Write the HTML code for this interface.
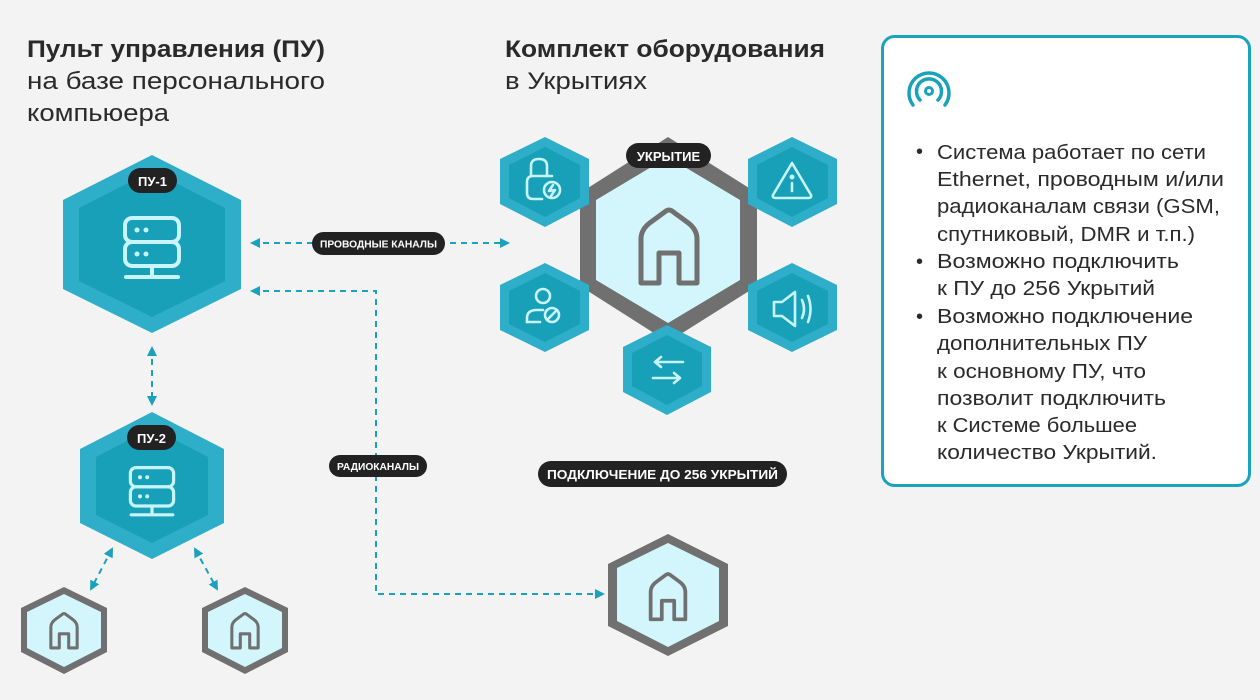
<!DOCTYPE html>
<html><head><meta charset="utf-8"><style>
html,body{margin:0;padding:0;background:#f3f3f3;}
svg{display:block;}
text{font-family:"Liberation Sans","DejaVu Sans",sans-serif;}
</style></head><body>
<svg width="1260" height="700" viewBox="0 0 1260 700" xmlns="http://www.w3.org/2000/svg">
<defs>
<marker id="ar" viewBox="0 0 10 10" refX="8" refY="5" markerWidth="5" markerHeight="5" orient="auto-start-reverse"><path d="M0,0 L10,5 L0,10 Z" fill="#1aa1bb"/></marker>
<path id="house" d="M -28,36 L -28,-8 Q -28,-18 -18,-25 L -3,-36 Q 0,-38 3,-36 L 18,-25 Q 28,-18 28,-8 L 28,36 L 10,36 L 10,6 L -10,6 L -10,36 Z" fill="none" stroke-linejoin="round"/>
<g id="server" fill="none" stroke="#c8f4fb" stroke-width="4" stroke-linecap="round">
<rect x="-27" y="-28" width="54" height="24" rx="7"/>
<rect x="-27" y="-4" width="54" height="24" rx="7"/>
<line x1="0" y1="20" x2="0" y2="30"/>
<line x1="-26" y1="31" x2="26" y2="31"/>
<circle cx="-15" cy="-16" r="2.5" fill="#c8f4fb" stroke="none"/><circle cx="-6" cy="-16" r="2.5" fill="#c8f4fb" stroke="none"/>
<circle cx="-15" cy="8" r="2.5" fill="#c8f4fb" stroke="none"/><circle cx="-6" cy="8" r="2.5" fill="#c8f4fb" stroke="none"/>
</g>
</defs>

<!-- headings -->
<g font-size="24" fill="#2a2a2a">
<text x="27" y="57" font-weight="bold" textLength="298" lengthAdjust="spacingAndGlyphs">Пульт управления (ПУ)</text>
<text x="27" y="89" textLength="298" lengthAdjust="spacingAndGlyphs">на базе персонального</text>
<text x="27" y="121" textLength="142" lengthAdjust="spacingAndGlyphs">компьюера</text>
<text x="505" y="57" font-weight="bold" textLength="320" lengthAdjust="spacingAndGlyphs">Комплект оборудования</text>
<text x="505" y="89" textLength="142" lengthAdjust="spacingAndGlyphs">в Укрытиях</text>
</g>

<!-- connectors -->
<g stroke="#1aa1bb" stroke-width="2" stroke-dasharray="6,5" fill="none">
<line x1="252" y1="243" x2="508" y2="243" marker-start="url(#ar)" marker-end="url(#ar)"/>
<polyline points="252,291 376,291 376,594 603,594" marker-start="url(#ar)" marker-end="url(#ar)"/>
<line x1="152" y1="348" x2="152" y2="404" marker-start="url(#ar)" marker-end="url(#ar)"/>
<line x1="112" y1="549" x2="91" y2="589" marker-start="url(#ar)" marker-end="url(#ar)"/>
<line x1="195" y1="549" x2="217" y2="589" marker-start="url(#ar)" marker-end="url(#ar)"/>
</g>

<!-- PU-1 -->
<polygon points="152,155 241,200 241,289 152,333 63,289 63,200" fill="#2eaec8"/>
<polygon points="152,171 225,208 225,281 152,317 79,281 79,208" fill="#18a0b8"/>
<use href="#server" x="152" y="246"/>
<rect x="128" y="168" width="49" height="25" rx="12.5" fill="#222"/>
<text x="152.5" y="186" font-size="13" font-weight="bold" fill="#fff" text-anchor="middle">ПУ-1</text>

<!-- PU-2 -->
<polygon points="152,412 224,449 224,523 152,559 80,523 80,449" fill="#2eaec8"/>
<polygon points="152,428 208,457 208,515 152,543 96,515 96,457" fill="#18a0b8"/>
<use href="#server" x="152" y="490" transform="translate(152 490) scale(0.8) translate(-152 -490)"/>
<rect x="127" y="425" width="49" height="25" rx="12.5" fill="#222"/>
<text x="151.5" y="443" font-size="13" font-weight="bold" fill="#fff" text-anchor="middle">ПУ-2</text>

<!-- small houses bottom left -->
<g>
<polygon points="64,587 107,608 107,652 64,674 21,652 21,608" fill="#707070"/>
<polygon points="64,594 101,612 101,648 64,667 27,648 27,612" fill="#d2f6fc"/>
<use href="#house" transform="translate(64 631) scale(0.47)" stroke="#707070" stroke-width="6.5"/>
<polygon points="245,587 288,608 288,652 245,674 202,652 202,608" fill="#707070"/>
<polygon points="245,594 282,612 282,648 245,667 208,648 208,612" fill="#d2f6fc"/>
<use href="#house" transform="translate(245 631) scale(0.47)" stroke="#707070" stroke-width="6.5"/>
</g>

<!-- bottom right house -->
<polygon points="668,534 728,564 728,626 668,656 608,626 608,564" fill="#707070"/>
<polygon points="668,543 719,568 719,621 668,647 617,621 617,568" fill="#d2f6fc"/>
<use href="#house" transform="translate(668 597) scale(0.62)" stroke="#707070" stroke-width="6"/>

<!-- central -->
<polygon points="668,137 757,193 757,286 668,342 580,286 580,193" fill="#707070"/>
<polygon points="668,157 740,200 740,280 668,323 596,280 596,200" fill="#d2f6fc"/>
<use href="#house" transform="translate(669 247)" stroke="#707070" stroke-width="5"/>
<rect x="626" y="143" width="85" height="25" rx="12.5" fill="#222"/>
<text x="668.5" y="161" font-size="13" font-weight="bold" fill="#fff" text-anchor="middle">УКРЫТИЕ</text>

<!-- satellite hexes -->
<g>
<polygon points="545,137 589,159 589,204 545,227 500,204 500,159" fill="#2eaec8"/>
<polygon points="545,147 580,165 580,198 545,217 509,198 509,165" fill="#18a0b8"/>
<polygon points="792,137 837,159 837,204 792,227 748,204 748,159" fill="#2eaec8"/>
<polygon points="792,147 828,165 828,198 792,217 757,198 757,165" fill="#18a0b8"/>
<polygon points="545,263 589,285 589,330 545,352 500,330 500,285" fill="#2eaec8"/>
<polygon points="545,273 580,291 580,324 545,342 509,324 509,291" fill="#18a0b8"/>
<polygon points="792,263 837,285 837,330 792,352 748,330 748,285" fill="#2eaec8"/>
<polygon points="792,273 828,291 828,324 792,342 757,324 757,291" fill="#18a0b8"/>
<polygon points="667,325 711,347 711,392 667,415 623,392 623,347" fill="#2eaec8"/>
<polygon points="667,335 702,353 702,386 667,405 632,386 632,353" fill="#18a0b8"/>
</g>
<g fill="none" stroke="#c8f4fb" stroke-width="2.6" stroke-linecap="round" stroke-linejoin="round">
<path d="M531,176 L531,166 Q531,159 539,159 Q547,159 547,166 L547,176"/>
<path d="M552,176 L533,176 Q527,176 527,182 L527,193 Q527,199 533,199 L542,199"/>
<circle cx="552" cy="190" r="8"/>
<path d="M553,185 L549,191 L555,190 L551,196"/>
<path d="M792,163 L773,195 Q772,198 776,198 L808,198 Q812,198 811,195 Z"/>
<line x1="792" y1="183" x2="792" y2="191"/><circle cx="792" cy="177" r="1.2" fill="#c8f4fb"/>
<circle cx="543" cy="296" r="7"/>
<path d="M527,322 L527,318 Q527,310 537,310 L543,310"/>
<path d="M527,322 L540,322"/>
<circle cx="552" cy="315" r="7"/><line x1="547" y1="320" x2="557" y2="310"/>
<path d="M774,302 L782,302 L795,292 L795,326 L782,316 L774,316 Z"/>
<path d="M802,300 Q806,309 802,318"/><path d="M808,296 Q813,309 808,322"/>
<path d="M655,362 L683,362 M655,362 L661,357 M655,362 L661,367"/>
<path d="M653,378 L680,378 M680,378 L674,373 M680,378 L674,383"/>
</g>

<!-- labels -->
<rect x="312" y="232" width="133" height="23" rx="11.5" fill="#222"/>
<text x="378.5" y="247.5" font-size="10.5" font-weight="bold" fill="#fff" text-anchor="middle" textLength="117" lengthAdjust="spacingAndGlyphs">ПРОВОДНЫЕ КАНАЛЫ</text>
<rect x="329" y="455" width="98" height="22" rx="11" fill="#222"/>
<text x="378" y="470" font-size="10.5" font-weight="bold" fill="#fff" text-anchor="middle" textLength="82" lengthAdjust="spacingAndGlyphs">РАДИОКАНАЛЫ</text>
<rect x="538" y="461" width="249" height="26" rx="13" fill="#222"/>
<text x="662.5" y="479" font-size="13" font-weight="bold" fill="#fff" text-anchor="middle" textLength="231" lengthAdjust="spacingAndGlyphs">ПОДКЛЮЧЕНИЕ ДО 256 УКРЫТИЙ</text>

<!-- panel -->
<rect x="882.5" y="36.5" width="367" height="449" rx="12" fill="#fff" stroke="#1aa3bd" stroke-width="3"/>
<g fill="none" stroke="#1aa1bb" stroke-width="3.5" stroke-linecap="round">
<circle cx="929" cy="91" r="3.5" stroke-width="3"/>
<path d="M920,100 A12.5,12.5 0 1 1 938,100"/>
<path d="M913,105 A20,20 0 1 1 945,105"/>
</g>
<g font-size="20" fill="#2a2a2a">
<text x="916" y="158">•</text>
<text x="937" y="159" textLength="269" lengthAdjust="spacingAndGlyphs">Система работает по сети</text>
<text x="937" y="186" textLength="287" lengthAdjust="spacingAndGlyphs">Ethernet, проводным и/или</text>
<text x="937" y="213" textLength="283" lengthAdjust="spacingAndGlyphs">радиоканалам связи (GSM,</text>
<text x="937" y="241" textLength="258" lengthAdjust="spacingAndGlyphs">спутниковый, DMR и т.п.)</text>
<text x="916" y="268">•</text>
<text x="937" y="268" textLength="242" lengthAdjust="spacingAndGlyphs">Возможно подключить</text>
<text x="937" y="295" textLength="218" lengthAdjust="spacingAndGlyphs">к ПУ до 256 Укрытий</text>
<text x="916" y="323">•</text>
<text x="937" y="323" textLength="256" lengthAdjust="spacingAndGlyphs">Возможно подключение</text>
<text x="937" y="350" textLength="210" lengthAdjust="spacingAndGlyphs">дополнительных ПУ</text>
<text x="937" y="378" textLength="209" lengthAdjust="spacingAndGlyphs">к основному ПУ, что</text>
<text x="937" y="405" textLength="229" lengthAdjust="spacingAndGlyphs">позволит подключить</text>
<text x="937" y="432" textLength="200" lengthAdjust="spacingAndGlyphs">к Системе большее</text>
<text x="937" y="459" textLength="220" lengthAdjust="spacingAndGlyphs">количество Укрытий.</text>
</g>
</svg>
</body></html>
